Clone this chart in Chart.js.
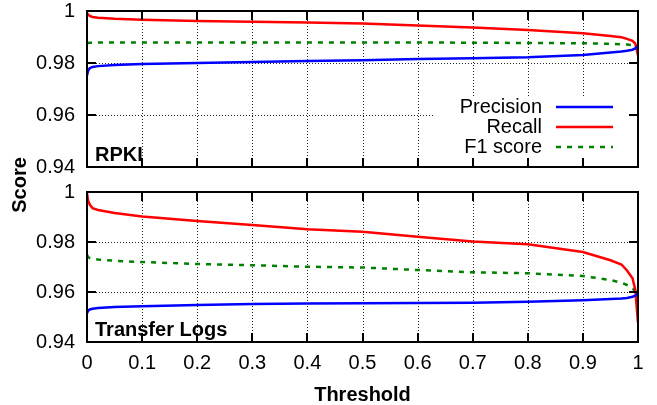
<!DOCTYPE html>
<html>
<head>
<meta charset="utf-8">
<script src="https://cdn.jsdelivr.net/npm/chart.js@4"></script>
<style>
  body { margin: 0; background: #fff; }
  #wrap { position: relative; width: 657px; height: 405px; }
  #wrap canvas { position: absolute; left: 0; top: 0; }
</style>
</head>
<body>
<div id="wrap">
  <canvas id="rpki" width="657" height="405"></canvas>
  <canvas id="logs" width="657" height="405"></canvas>
</div>
<script>
// --- Data ---
const thresholds = [0, 0.002, 0.005, 0.01, 0.02, 0.05, 0.1, 0.2, 0.3, 0.4, 0.5,
  0.6, 0.7, 0.8, 0.9, 0.95, 0.97, 0.98, 0.99, 0.995, 1];

const rpkiPrecision = [0.9752, 0.9770, 0.9780, 0.9785, 0.9788, 0.9792, 0.9796, 0.9800, 0.9804, 0.9808, 0.9811,
  0.9815, 0.9818, 0.9822, 0.9831, 0.9840, 0.9844, 0.9847, 0.9851, 0.9856, 0.9866];
const rpkiRecall = [0.9993, 0.9986, 0.9981, 0.9977, 0.9974, 0.9970, 0.9966, 0.9962, 0.9959, 0.9956, 0.9952,
  0.9944, 0.9937, 0.9927, 0.9914, 0.9904, 0.9899, 0.9893, 0.9885, 0.9875, 0.9830];
const rpkiF1 = [0.9876, 0.9877, 0.9878, 0.9878, 0.9879, 0.9879, 0.9879, 0.9879, 0.9879, 0.9879, 0.9879,
  0.9879, 0.9878, 0.9877, 0.9876, 0.9874, 0.9872, 0.9871, 0.9869, 0.9867, 0.9862];

const logsPrecision = [0.9515, 0.9525, 0.9530, 0.9533, 0.9536, 0.9540, 0.9543, 0.9548, 0.9552, 0.9554, 0.9555,
  0.9556, 0.9557, 0.9561, 0.9567, 0.9572, 0.9574, 0.9576, 0.9581, 0.9585, 0.9595];
const logsRecall = [0.9996, 0.9965, 0.9950, 0.9935, 0.9928, 0.9916, 0.9902, 0.9884, 0.9868, 0.9851, 0.9841,
  0.9821, 0.9802, 0.9791, 0.9760, 0.9727, 0.9710, 0.9686, 0.9655, 0.9610, 0.9476];
const logsF1 = [0.9749, 0.9740, 0.9736, 0.9733, 0.9730, 0.9725, 0.9720, 0.9712, 0.9707, 0.9701, 0.9698,
  0.9688, 0.9679, 0.9675, 0.9664, 0.9648, 0.9637, 0.9628, 0.9617, 0.9600, 0.9555];

const xTicks = [0, 0.1, 0.2, 0.3, 0.4, 0.5, 0.6, 0.7, 0.8, 0.9, 1];
const yTicks = [0.94, 0.96, 0.98, 1];

const FONT = "'Liberation Sans', Arial, Helvetica, sans-serif";

// dotted grid, frame, inward ticks, panel name, legend and the shared y title
const panelPlugin = {
  id: 'panel',
  beforeDatasetsDraw(chart, args, opts) {
    const ctx = chart.ctx;
    const a = chart.chartArea;
    const xs = chart.scales.x, ys = chart.scales.y;
    ctx.save();
    ctx.fillStyle = '#222';
    xs.ticks.forEach(t => {
      const px = Math.round(xs.getPixelForValue(t.value));
      for (let y = a.top; y < a.bottom; y += 3) ctx.fillRect(px, y, 1, 1);
    });
    ys.ticks.forEach(t => {
      const py = Math.round(ys.getPixelForValue(t.value));
      for (let x = a.left; x < a.right; x += 3) ctx.fillRect(x, py, 1, 1);
    });
    // the key has an opaque box that hides the grid
    if (opts.legend) {
      ctx.fillStyle = '#fff';
      ctx.fillRect(a.right - 205, a.bottom - 70, 205, 70);
    }
    ctx.restore();
  },
  afterDraw(chart, args, opts) {
    const ctx = chart.ctx;
    const a = chart.chartArea;
    const xs = chart.scales.x, ys = chart.scales.y;
    ctx.save();

    // tick marks pointing inward on all four sides
    ctx.fillStyle = '#000';
    xs.ticks.forEach(t => {
      const px = Math.round(xs.getPixelForValue(t.value));
      ctx.fillRect(px - 1, a.top, 2, 9);
      ctx.fillRect(px - 1, a.bottom - 9, 2, 9);
    });
    ys.ticks.forEach(t => {
      const py = Math.round(ys.getPixelForValue(t.value));
      ctx.fillRect(a.left, py - 1, 9, 2);
      ctx.fillRect(a.right - 9, py - 1, 9, 2);
    });

    ctx.strokeStyle = '#000';
    ctx.lineWidth = 2;
    ctx.strokeRect(a.left, a.top, a.right - a.left, a.bottom - a.top);

    // panel name
    ctx.font = 'bold 20px ' + FONT;
    ctx.textAlign = 'left';
    ctx.textBaseline = 'alphabetic';
    ctx.fillText(opts.label, a.left + 8, a.bottom - 6);

    // gnuplot style key: text right aligned, sample to the right
    if (opts.legend) {
      ctx.font = '20px ' + FONT;
      ctx.textAlign = 'right';
      ctx.textBaseline = 'middle';
      chart.data.datasets.forEach((ds, i) => {
        const cy = a.bottom - 60 + i * 20;
        ctx.fillStyle = '#000';
        ctx.fillText(ds.label, a.right - 96, cy);
        ctx.strokeStyle = ds.borderColor;
        ctx.lineWidth = ds.borderWidth;
        ctx.setLineDash(ds.borderDash || []);
        ctx.beginPath();
        ctx.moveTo(a.right - 82, cy);
        ctx.lineTo(a.right - 25, cy);
        ctx.stroke();
        ctx.setLineDash([]);
      });
    }

    if (opts.yTitle) {
      ctx.translate(20, 185);
      ctx.rotate(-Math.PI / 2);
      ctx.font = 'bold 20px ' + FONT;
      ctx.fillStyle = '#000';
      ctx.textAlign = 'center';
      ctx.textBaseline = 'middle';
      ctx.fillText(opts.yTitle, 0, 0);
    }
    ctx.restore();
  }
};

function series(values) {
  return values.map((v, i) => ({ x: thresholds[i], y: v }));
}

function makeDatasets(precision, recall, f1) {
  return [
    { label: 'Precision', data: series(precision), borderColor: '#0000ff', borderWidth: 2.5 },
    { label: 'Recall', data: series(recall), borderColor: '#ff0000', borderWidth: 2.5 },
    { label: 'F1 score', data: series(f1), borderColor: '#008000', borderWidth: 2.5, borderDash: [5, 6] }
  ];
}

function makeChart(id, datasets, isBottom, panel) {
  return new Chart(document.getElementById(id), {
    type: 'line',
    data: { datasets: datasets },
    options: {
      responsive: false,
      animation: false,
      events: [],
      layout: {
        padding: isBottom
          ? { top: 192, right: 19, bottom: 0, left: 0 }
          : { top: 11, right: 19, bottom: 238, left: 0 }
      },
      elements: { point: { radius: 0 }, line: { tension: 0, fill: false } },
      scales: {
        x: {
          type: 'linear',
          min: 0,
          max: 1,
          grid: { display: false, drawTicks: false },
          border: { display: false },
          afterBuildTicks: s => { s.ticks = xTicks.map(v => ({ value: v })); },
          ticks: {
            display: isBottom,
            padding: 9,
            color: '#000',
            maxRotation: 0,
            autoSkip: false,
            font: { family: FONT, size: 20 },
            callback: v => String(+v.toFixed(1))
          },
          afterFit: s => {
            s.height = isBottom ? 63 : 0;
            s.paddingLeft = 0;
            s.paddingRight = 0;
          },
          title: {
            display: isBottom,
            text: 'Threshold',
            color: '#000',
            padding: 0,
            font: { family: FONT, size: 20, weight: 'bold', lineHeight: 1 }
          }
        },
        y: {
          min: 0.94,
          max: 1,
          grid: { display: false, drawTicks: false },
          border: { display: false },
          afterBuildTicks: s => { s.ticks = yTicks.map(v => ({ value: v })); },
          ticks: {
            padding: 12,
            color: '#000',
            font: { family: FONT, size: 20 },
            callback: v => String(+v.toFixed(2))
          },
          afterFit: s => {
            s.width = 87;
            s.paddingTop = 0;
            s.paddingBottom = 0;
          }
        }
      },
      plugins: {
        legend: { display: false },
        tooltip: { enabled: false },
        panel: panel
      }
    },
    plugins: [panelPlugin]
  });
}

makeChart('rpki', makeDatasets(rpkiPrecision, rpkiRecall, rpkiF1), false,
  { label: 'RPKI', legend: true, yTitle: 'Score' });
makeChart('logs', makeDatasets(logsPrecision, logsRecall, logsF1), true,
  { label: 'Transfer Logs', legend: false });
</script>
</body>
</html>
